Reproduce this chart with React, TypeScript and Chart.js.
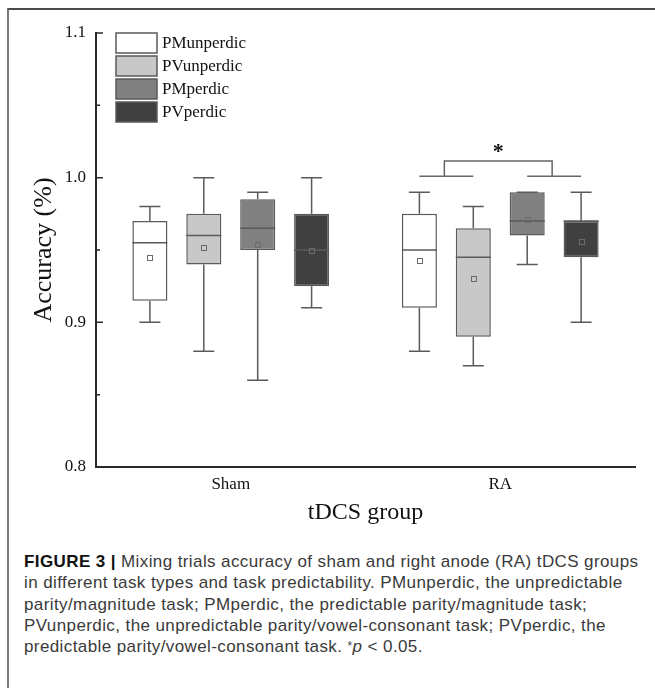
import { useEffect, useRef } from 'react';
import { Chart, registerables } from 'chart.js';

Chart.register(...registerables);

// ---------- data ----------
const groups = ['Sham', 'RA'];
const seriesNames = ['PMunperdic', 'PVunperdic', 'PMperdic', 'PVperdic'];
const seriesFill = ['#ffffff', '#c8c8c8', '#808080', '#404040'];
// each row: one series, values for [Sham, RA]
const whiskerLow = [[0.90, 0.88], [0.88, 0.87], [0.86, 0.94], [0.91, 0.90]];
const q1Vals = [[0.915, 0.91], [0.94, 0.89], [0.95, 0.96], [0.925, 0.945]];
const medianVals = [[0.955, 0.95], [0.96, 0.945], [0.965, 0.97], [0.95, 0.97]];
const q3Vals = [[0.97, 0.975], [0.975, 0.965], [0.985, 0.99], [0.975, 0.97]];
const whiskerHigh = [[0.98, 0.99], [1.0, 0.98], [0.99, 0.99], [1.0, 0.99]];
const meanVals = [[0.945, 0.943], [0.952, 0.930], [0.954, 0.971], [0.95, 0.956]];

const yTicks = [0.8, 0.9, 1.0, 1.1];
const yTickLabels = ['0.8', '0.9', '1.0', '1.1'];
const yMinorTicks = [0.85, 0.95, 1.05];

// significance bracket (RA group): pairs of series, levels in data units
const sigGroupIndex = 1;
const sigLeftPair = [0, 1];
const sigRightPair = [2, 3];
const sigLowLevel = 1.001;
const sigHighLevel = 1.0115;
const sigLabel = '*';

const captionLines = [
  'in different task types and task predictability. PMunperdic, the unpredictable',
  'parity/magnitude task; PMperdic, the predictable parity/magnitude task;',
  'PVunperdic, the unpredictable parity/vowel-consonant task; PVperdic, the',
];

const LINE = '#5a5a5a';
const AXIS = '#2a2a2a';
const SERIF = '"Liberation Serif", "Times New Roman", serif';

const boxPlugin = {
  id: 'boxplotExtras',
  afterDatasetsDraw(chart: any) {
    const { ctx, chartArea } = chart;
    const y = chart.scales.y;
    ctx.save();

    // whiskers, medians, means
    chart.data.datasets.forEach((_ds: any, i: number) => {
      const meta = chart.getDatasetMeta(i);
      meta.data.forEach((bar: any, j: number) => {
        const x = bar.x;
        const w = bar.width;
        const capHalf = w * 0.3;
        const pMin = y.getPixelForValue(whiskerLow[i][j]);
        const pQ1 = y.getPixelForValue(q1Vals[i][j]);
        const pMed = y.getPixelForValue(medianVals[i][j]);
        const pQ3 = y.getPixelForValue(q3Vals[i][j]);
        const pMax = y.getPixelForValue(whiskerHigh[i][j]);
        const pMean = y.getPixelForValue(meanVals[i][j]);
        ctx.strokeStyle = LINE;
        ctx.lineWidth = 1.5;
        ctx.beginPath();
        ctx.moveTo(x, pQ3);
        ctx.lineTo(x, pMax);
        ctx.moveTo(x - capHalf, pMax);
        ctx.lineTo(x + capHalf, pMax);
        ctx.moveTo(x, pQ1);
        ctx.lineTo(x, pMin);
        ctx.moveTo(x - capHalf, pMin);
        ctx.lineTo(x + capHalf, pMin);
        ctx.moveTo(x - w / 2, pMed);
        ctx.lineTo(x + w / 2, pMed);
        ctx.stroke();
        ctx.lineWidth = 1;
        ctx.strokeStyle = '#6a6a6a';
        ctx.strokeRect(Math.round(x - 2.5) + 0.5, Math.round(pMean - 2.5) + 0.5, 5, 5);
      });
    });

    // inward ticks on y axis
    const ax = y.right;
    ctx.strokeStyle = AXIS;
    ctx.lineWidth = 1.5;
    ctx.beginPath();
    yTicks.forEach((v) => {
      const py = y.getPixelForValue(v);
      ctx.moveTo(ax, py);
      ctx.lineTo(ax + 7, py);
    });
    yMinorTicks.forEach((v) => {
      const py = y.getPixelForValue(v);
      ctx.moveTo(ax, py);
      ctx.lineTo(ax + 4, py);
    });
    ctx.stroke();

    // legend
    const lx = chartArea.left + 20;
    const ly = chartArea.top;
    chart.data.datasets.forEach((ds: any, i: number) => {
      const top = ly + 23 * i;
      ctx.fillStyle = ds.backgroundColor;
      ctx.fillRect(lx, top, 41, 20);
      ctx.strokeStyle = LINE;
      ctx.lineWidth = 1.5;
      ctx.strokeRect(lx, top, 41, 20);
      ctx.fillStyle = '#111';
      ctx.font = `17px ${SERIF}`;
      ctx.textBaseline = 'middle';
      ctx.textAlign = 'left';
      ctx.fillText(ds.label, lx + 46, top + 11);
    });

    // significance bracket
    const bx = (s: number) => chart.getDatasetMeta(s).data[sigGroupIndex].x;
    const pLow = y.getPixelForValue(sigLowLevel);
    const pHigh = y.getPixelForValue(sigHighLevel);
    const l0 = bx(sigLeftPair[0]);
    const l1 = bx(sigLeftPair[1]);
    const r0 = bx(sigRightPair[0]);
    const r1 = bx(sigRightPair[1]);
    const lm = (l0 + l1) / 2 - 2;
    const rm = (r0 + r1) / 2 - 2;
    ctx.strokeStyle = '#666';
    ctx.lineWidth = 1.5;
    ctx.beginPath();
    ctx.moveTo(l0, pLow);
    ctx.lineTo(l1, pLow);
    ctx.moveTo(r0, pLow);
    ctx.lineTo(r1, pLow);
    ctx.moveTo(lm, pLow);
    ctx.lineTo(lm, pHigh);
    ctx.lineTo(rm, pHigh);
    ctx.lineTo(rm, pLow);
    ctx.stroke();
    ctx.fillStyle = '#111';
    ctx.font = `bold 22px ${SERIF}`;
    ctx.textAlign = 'center';
    ctx.textBaseline = 'alphabetic';
    ctx.fillText(sigLabel, (lm + rm) / 2, pHigh - 3);

    ctx.restore();
  },
};

function BoxChart() {
  const ref = useRef<HTMLCanvasElement>(null);
  useEffect(() => {
    if (!ref.current) return;
    const datasets = seriesNames.map((name, i) => ({
      label: name,
      data: groups.map((_g, j) => [q1Vals[i][j], q3Vals[i][j]]),
      backgroundColor: seriesFill[i],
      borderColor: LINE,
      borderWidth: 1.5,
      borderSkipped: false,
      categoryPercentage: 0.8,
      barPercentage: 0.65,
    }));
    const chart = new Chart(ref.current, {
      type: 'bar',
      data: { labels: groups, datasets },
      options: {
        responsive: false,
        animation: false,
        layout: { padding: { left: 29, right: 20, top: 33, bottom: 0 } },
        plugins: { legend: { display: false }, tooltip: { enabled: false } },
        scales: {
          x: {
            grid: { display: false, drawTicks: false },
            border: { display: true, color: AXIS, width: 2 },
            ticks: { color: '#111', font: { family: SERIF, size: 17 }, padding: 7 },
            title: {
              display: true,
              text: 'tDCS group',
              color: '#111',
              font: { family: SERIF, size: 24 },
              padding: { top: 0, bottom: 3 },
            },
            afterFit: (s: any) => {
              s.height = 63;
            },
          },
          y: {
            min: 0.8,
            max: 1.1,
            grid: { display: false, drawTicks: false },
            border: { display: true, color: AXIS, width: 2 },
            afterBuildTicks: (s: any) => {
              s.ticks = yTicks.map((v) => ({ value: v }));
            },
            ticks: {
              color: '#111',
              font: { family: SERIF, size: 17 },
              padding: 10,
              callback: (_v: any, idx: number) => yTickLabels[idx],
            },
            title: {
              display: true,
              text: 'Accuracy (%)',
              color: '#111',
              font: { family: SERIF, size: 26 },
              padding: { top: 0, bottom: 0 },
            },
            afterFit: (s: any) => {
              s.width = 67;
            },
          },
        },
      },
      plugins: [boxPlugin],
    } as any);
    return () => chart.destroy();
  }, []);
  return <canvas ref={ref} width={655} height={530} style={{ position: 'absolute', left: 0, top: 0 }} />;
}

export default function App() {
  return (
    <div style={{ position: 'absolute', left: 0, top: 0, width: 655, height: 688, background: '#fff', overflow: 'hidden' }}>
      <div
        style={{
          position: 'absolute',
          left: 7,
          top: 8,
          width: 660,
          height: 690,
          borderTop: '2px solid #4a4a4a',
          borderLeft: '2px solid #7a7a7a',
          boxSizing: 'border-box',
        }}
      />
      <BoxChart />
      <div
        style={{
          position: 'absolute',
          left: 24,
          top: 551,
          fontFamily: '"Liberation Sans", Arial, sans-serif',
          fontSize: 17,
          letterSpacing: '0.4px',
          lineHeight: '21.25px',
          color: '#3a3a3a',
          whiteSpace: 'nowrap',
        }}
      >
        <div>
          <b style={{ color: '#111' }}>FIGURE 3 |</b> Mixing trials accuracy of sham and right anode (RA) tDCS groups
        </div>
        {captionLines.map((l) => (
          <div key={l}>{l}</div>
        ))}
        <div>
          predictable parity/vowel-consonant task. <span style={{ fontSize: 12, verticalAlign: 'top' }}>*</span>
          <i>p</i> &lt; 0.05.
        </div>
      </div>
    </div>
  );
}
